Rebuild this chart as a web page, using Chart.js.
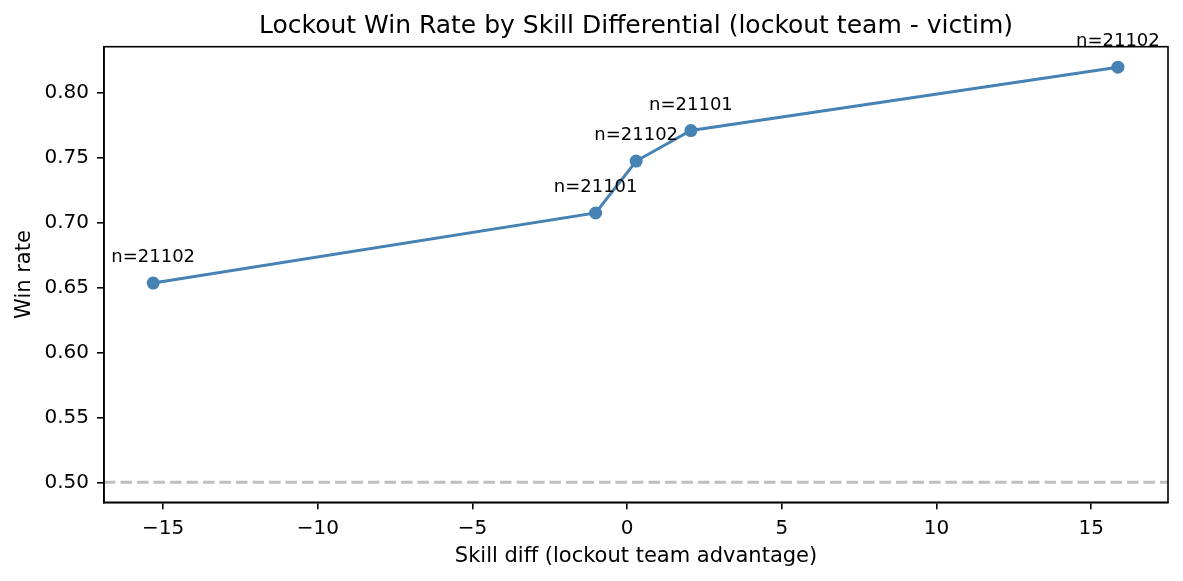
<!DOCTYPE html>
<html>
<head>
<meta charset="utf-8">
<script src="https://cdn.jsdelivr.net/npm/chart.js@4/dist/chart.umd.min.js"></script>
<style>
  html, body { margin: 0; padding: 0; background: #fff; }
  #wrap { width: 1183px; height: 581px; }
</style>
</head>
<body>
<div id="wrap"><canvas id="chart-lockout" width="1183" height="581"></canvas></div>
<script>
// datos
const skillDiff = [-15.32, -1.02, 0.29, 2.06, 15.86];
const winRate = [0.6535, 0.7075, 0.7475, 0.7710, 0.8198];
const sampleSizes = [21102, 21101, 21102, 21101, 21102];

const xTickValues = [-15, -10, -5, 0, 5, 10, 15];
const yTickValues = [0.50, 0.55, 0.60, 0.65, 0.70, 0.75, 0.80];
const xLimits = [-16.91, 17.48];
const yLimits = [0.4846, 0.8356];
const baselineRate = 0.5;

const chartTitle = 'Lockout Win Rate by Skill Differential (lockout team - victim)';
const FONT = "'DejaVu Sans', sans-serif";

// linea punteada en 0.5, marco completo, titulo centrado sobre el area
const extrasPlugin = {
  id: 'extras',
  beforeDatasetsDraw(chart) {
    const { ctx, chartArea, scales } = chart;
    const y = scales.y.getPixelForValue(baselineRate);
    ctx.save();
    ctx.strokeStyle = 'rgba(128,128,128,0.5)';
    ctx.lineWidth = 3;
    ctx.setLineDash([11.5, 5]);
    ctx.beginPath();
    ctx.moveTo(chartArea.left, y);
    ctx.lineTo(chartArea.right, y);
    ctx.stroke();
    ctx.restore();
  },
  afterDatasetsDraw(chart) {
    const { ctx, chartArea, scales } = chart;
    ctx.save();
    ctx.strokeStyle = '#000';
    ctx.lineWidth = 1.6;
    ctx.strokeRect(chartArea.left, chartArea.top,
      chartArea.right - chartArea.left, chartArea.bottom - chartArea.top);

    // titulo
    ctx.fillStyle = '#000';
    ctx.font = '25px ' + FONT;
    ctx.textAlign = 'center';
    ctx.textBaseline = 'alphabetic';
    ctx.fillText(chartTitle, (chartArea.left + chartArea.right) / 2, 33);

    // etiquetas n=...
    ctx.font = '18px ' + FONT;
    skillDiff.forEach((x, i) => {
      const px = scales.x.getPixelForValue(x);
      const py = scales.y.getPixelForValue(winRate[i]);
      ctx.fillText('n=' + sampleSizes[i], px, py - 21);
    });
    ctx.restore();
  }
};

const ctx = document.getElementById('chart-lockout').getContext('2d');
new Chart(ctx, {
  type: 'scatter',
  data: {
    datasets: [{
      label: 'Win rate',
      data: skillDiff.map((x, i) => ({ x: x, y: winRate[i] })),
      showLine: true,
      borderColor: '#4682b4',
      backgroundColor: '#4682b4',
      borderWidth: 3,
      pointRadius: 6.5,
      pointHoverRadius: 6.5,
      pointBorderWidth: 0,
      tension: 0
    }]
  },
  options: {
    responsive: false,
    animation: false,
    devicePixelRatio: 1,
    layout: { padding: { left: 0, right: 15, top: 46.7, bottom: 0 } },
    plugins: {
      legend: { display: false },
      tooltip: { enabled: false },
      title: { display: false }
    },
    scales: {
      x: {
        type: 'linear',
        min: xLimits[0],
        max: xLimits[1],
        afterBuildTicks: s => { s.ticks = xTickValues.map(v => ({ value: v })); },
        afterFit: s => { s.height = 78.7; },
        ticks: {
          autoSkip: false,
          maxRotation: 0,
          color: '#000',
          padding: 7,
          font: { family: FONT, size: 20 },
          callback: v => (v < 0 ? '\u2212' + Math.abs(v) : String(v))
        },
        grid: { drawOnChartArea: false, drawTicks: true, tickLength: 7, color: '#000', lineWidth: 1.6 },
        border: { display: true, color: '#000', width: 1.6 },
        title: {
          display: true,
          text: 'Skill diff (lockout team advantage)',
          color: '#000',
          font: { family: FONT, size: 21 },
          padding: { top: 0, bottom: 11.5 }
        }
      },
      y: {
        type: 'linear',
        min: yLimits[0],
        max: yLimits[1],
        afterBuildTicks: s => { s.ticks = yTickValues.map(v => ({ value: v })); },
        afterFit: s => { s.width = 104; },
        ticks: {
          autoSkip: false,
          color: '#000',
          padding: 8,
          font: { family: FONT, size: 20 },
          callback: v => Number(v).toFixed(2)
        },
        grid: { drawOnChartArea: false, drawTicks: true, tickLength: 7, color: '#000', lineWidth: 1.6 },
        border: { display: true, color: '#000', width: 1.6 },
        title: {
          display: true,
          text: 'Win rate',
          color: '#000',
          font: { family: FONT, size: 21 },
          padding: { top: 11.5, bottom: 0 }
        }
      }
    }
  },
  plugins: [extrasPlugin]
});
</script>
</body>
</html>
